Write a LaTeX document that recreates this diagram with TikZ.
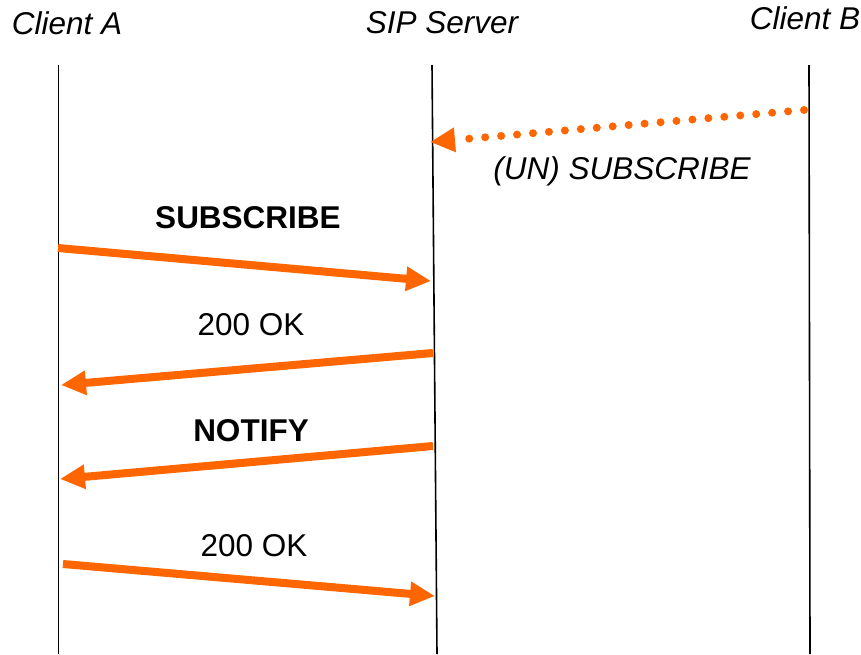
\documentclass[tikz,border=0pt]{standalone}
\usepackage{fontspec}
\setmainfont{Liberation Sans}
\usetikzlibrary{arrows.meta}
\definecolor{siporange}{RGB}{255,102,0}
\tikzset{
  lifeline/.style={line width=1.6pt, black},
  msg/.style={line width=8pt, siporange, -{Triangle[length=25pt, width=23pt]}},
  dotted msg/.style={line width=8pt, siporange, line cap=round,
    dash pattern=on 0pt off 16pt, -{Triangle[length=25pt, width=23pt]}},
  party/.style={font=\fontsize{31.5}{36}\selectfont\itshape},
  msgtext/.style={font=\fontsize{31.5}{36}\selectfont},
}

\begin{document}
\begin{tikzpicture}[x=1pt, y=-1pt]
  \useasboundingbox (0,0) rectangle (861,654);

  % Parties
  \node[party] (clientA) at (67,23) {Client A};
  \node[party] (server) at (442,23) {SIP Server};
  \node[party] (clientB) at (805,18) {Client B};

  % Lifelines
  \coordinate (a top) at (58.5,65);
  \coordinate (a bot) at (58.5,654);
  \coordinate (s top) at (432,65);
  \coordinate (s bot) at (437,654);
  \coordinate (b top) at (809,65);
  \coordinate (b bot) at (810,654);
  \draw[lifeline] (a top) -- (a bot);
  \draw[lifeline] (s top) -- (s bot);
  \draw[lifeline] (b top) -- (b bot);

  % (Un)subscribe from Client B
  \coordinate (b1) at (804,110);
  \coordinate (s1) at (430,142);
  \draw[dotted msg] (b1) -- (s1);
  \node[msgtext, font=\fontsize{31.5}{36}\selectfont\itshape] (unsub) at (622,171) {(UN) SUBSCRIBE};

  % Subscribe
  \coordinate (a2) at (58,248);
  \coordinate (s2) at (431,281);
  \draw[msg] (a2) -- (s2);
  \node[msgtext, font=\fontsize{31.5}{36}\selectfont\bfseries] (sub) at (248,218) {SUBSCRIBE};

  % 200 OK
  \coordinate (s3) at (433,353);
  \coordinate (a3) at (61,385);
  \draw[msg] (s3) -- (a3);
  \node[msgtext] (ok1) at (251,325) {200 OK};

  % Notify
  \coordinate (s4) at (433,446);
  \coordinate (a4) at (60,479);
  \draw[msg] (s4) -- (a4);
  \node[msgtext, font=\fontsize{31.5}{36}\selectfont\bfseries] (notify) at (251,431) {NOTIFY};

  % 200 OK
  \coordinate (a5) at (63,564);
  \coordinate (s5) at (435,596);
  \draw[msg] (a5) -- (s5);
  \node[msgtext] (ok2) at (254,546) {200 OK};

\end{tikzpicture}
\end{document}
